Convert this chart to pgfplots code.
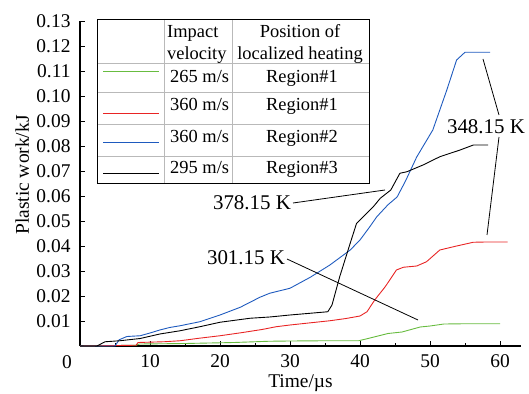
\documentclass[border=0pt]{standalone}
\usepackage{fontspec}
\setmainfont{Liberation Serif}
\usepackage{pgfplots}
\pgfplotsset{compat=1.18}
\definecolor{cgreen}{RGB}{104,188,64}
\definecolor{cred}{RGB}{232,36,36}
\definecolor{cblue}{RGB}{30,90,190}
\definecolor{cgrid}{RGB}{185,185,185}
\newcommand{\PX}[2]{({#1*1bp},{(394-#2)*1bp})}
\begin{document}
\begin{tikzpicture}
\useasboundingbox (0,0) rectangle (529bp,394bp);
\begin{axis}[
  at={(80bp,48bp)}, anchor=origin,
  scale only axis, width=441bp, height=325bp,
  xmin=0, xmax=63, ymin=0, ymax=0.13,
  axis x line*=bottom, axis y line*=left,
  axis line style={-, line width=1.1pt},
  tick align=inside,
  xtick={10,20,...,60},
  minor xtick={5,15,...,55},
  ytick={0.01,0.02,...,0.13},
  major tick length=5bp, minor tick length=3bp,
  every tick/.style={black, line width=0.8pt},
  yticklabel style={xshift=-6bp, /pgf/number format/.cd, fixed, fixed zerofill, precision=2, assume math mode=true},
  xticklabel style={yshift=-5bp, /pgf/number format/assume math mode=true},
  tick label style={font=\fontsize{19.5}{22}\selectfont},
  xlabel={Time/µs}, ylabel={Plastic work/kJ},
  label style={font=\fontsize{19.5}{22}\selectfont},
  xlabel style={at={(axis description cs:0.5,-0.1135)}, anchor=center},
  ylabel style={at={(axis description cs:-0.131,0.526)}, anchor=center},
  clip=false,
]
\addplot[cgreen, line width=0.9pt] coordinates {
(0,0) (8,0.0003) (8.5,0.0008) (15,0.0010) (22,0.0014) (27,0.0019) (30,0.0020) (35,0.0021) (39.8,0.0021) (41,0.0029) (44,0.0050) (46,0.0056) (48.6,0.0076) (50,0.0080) (52,0.0088) (55,0.0089) (60,0.0089)};
\addplot[cred, line width=0.9pt] coordinates {
(0,0) (8,0.0003) (8.3,0.0014) (12,0.0017) (14.3,0.0021) (17,0.0031) (20,0.0041) (23,0.0053) (26,0.0066) (28,0.0077) (30,0.0084) (33,0.0093) (35.7,0.0101) (38,0.0110) (40,0.0120) (41,0.0137) (42.1,0.0184) (43.6,0.0237) (45.2,0.0304) (46.2,0.0315) (48.1,0.0320) (49.5,0.0337) (51.4,0.0384) (53.8,0.0400) (56.2,0.0415) (58,0.0416) (61.1,0.0416)};
\addplot[cblue, line width=0.9pt] coordinates {
(0,0) (5.0,0) (5.6,0.0025) (6.7,0.0038) (8.6,0.0041) (10,0.0052) (11.4,0.0064) (12.8,0.0074) (14.3,0.0081) (17.1,0.0097) (20,0.0124) (22.9,0.0155) (25.7,0.0195) (27.1,0.0211) (30,0.0231) (32.9,0.0275) (35.7,0.0324) (38.6,0.0384) (40,0.0424) (41.4,0.0477) (42.4,0.0517) (44,0.0565) (45.3,0.0596) (46.5,0.0660) (48.1,0.0756) (50.4,0.0864) (52.4,0.1024) (53.8,0.1144) (55,0.1175) (58.6,0.1175)};
\addplot[black, line width=0.9pt] coordinates {
(0,0) (2.4,0) (3.6,0.0017) (5.7,0.0021) (8.6,0.0030) (11.4,0.0048) (14.3,0.0061) (17.1,0.0077) (20,0.0095) (24.3,0.0111) (27.1,0.0116) (30,0.0124) (35.4,0.0137) (36,0.0164) (37.1,0.0277) (38.6,0.0411) (39.5,0.0490) (40.2,0.0510) (41.9,0.0557) (42.9,0.0591) (44.4,0.0624) (45.7,0.0691) (46.7,0.0697) (49,0.0724) (51.4,0.0757) (54.3,0.0784) (56.2,0.0804) (58.3,0.0804)};
\end{axis}
% origin label
\node[font=\fontsize{19.5}{22}\selectfont] at \PX{67}{362} {0};
% legend table
\begin{scope}[font=\fontsize{18.5}{22}\selectfont]
\draw[cgrid, line width=0.9pt] \PX{164}{19} -- \PX{164}{183};
\draw[cgrid, line width=0.9pt] \PX{232}{19} -- \PX{232}{183};
\foreach \yy in {63,92,124,156} {\draw[cgrid, line width=0.9pt] \PX{97}{\yy} -- \PX{369}{\yy};}
\draw[black, line width=0.9pt] \PX{97}{19} rectangle \PX{369}{183};
\draw[cgreen, line width=0.9pt] \PX{103}{71} -- \PX{159}{71};
\draw[cred, line width=0.9pt] \PX{103}{113} -- \PX{159}{113};
\draw[cblue, line width=0.9pt] \PX{103}{142} -- \PX{159}{142};
\draw[black, line width=0.9pt] \PX{103}{173} -- \PX{159}{173};
\node[anchor=base west, inner sep=0] at \PX{167}{37} {Impact};
\node[anchor=base west, inner sep=0] at \PX{167}{59} {velocity};
\node[anchor=base, inner sep=0] at \PX{300}{37} {Position of};
\node[anchor=base, inner sep=0] at \PX{300}{59} {localized heating};
\node[anchor=base west, inner sep=0] at \PX{170}{82} {265 m/s};
\node[anchor=base west, inner sep=0] at \PX{170}{110} {360 m/s};
\node[anchor=base west, inner sep=0] at \PX{170}{142} {360 m/s};
\node[anchor=base west, inner sep=0] at \PX{170}{173} {295 m/s};
\node[anchor=base, inner sep=0] at \PX{302}{82} {Region\#1};
\node[anchor=base, inner sep=0] at \PX{302}{110} {Region\#1};
\node[anchor=base, inner sep=0] at \PX{302}{142} {Region\#2};
\node[anchor=base, inner sep=0] at \PX{302}{173} {Region\#3};
\end{scope}
% annotations
\begin{scope}[font=\fontsize{21}{22}\selectfont]
\node at \PX{252}{203} {378.15 K};
\node at \PX{246}{258} {301.15 K};
\node at \PX{486}{127} {348.15 K};
\draw[black, line width=0.8pt] \PX{293}{203} -- \PX{385}{190};
\draw[black, line width=0.8pt] \PX{287}{259} -- \PX{418}{320};
\draw[black, line width=0.8pt] \PX{483}{59} -- \PX{499}{115};
\draw[black, line width=0.8pt] \PX{499}{137} -- \PX{487}{235};
\end{scope}
\end{tikzpicture}
\end{document}
